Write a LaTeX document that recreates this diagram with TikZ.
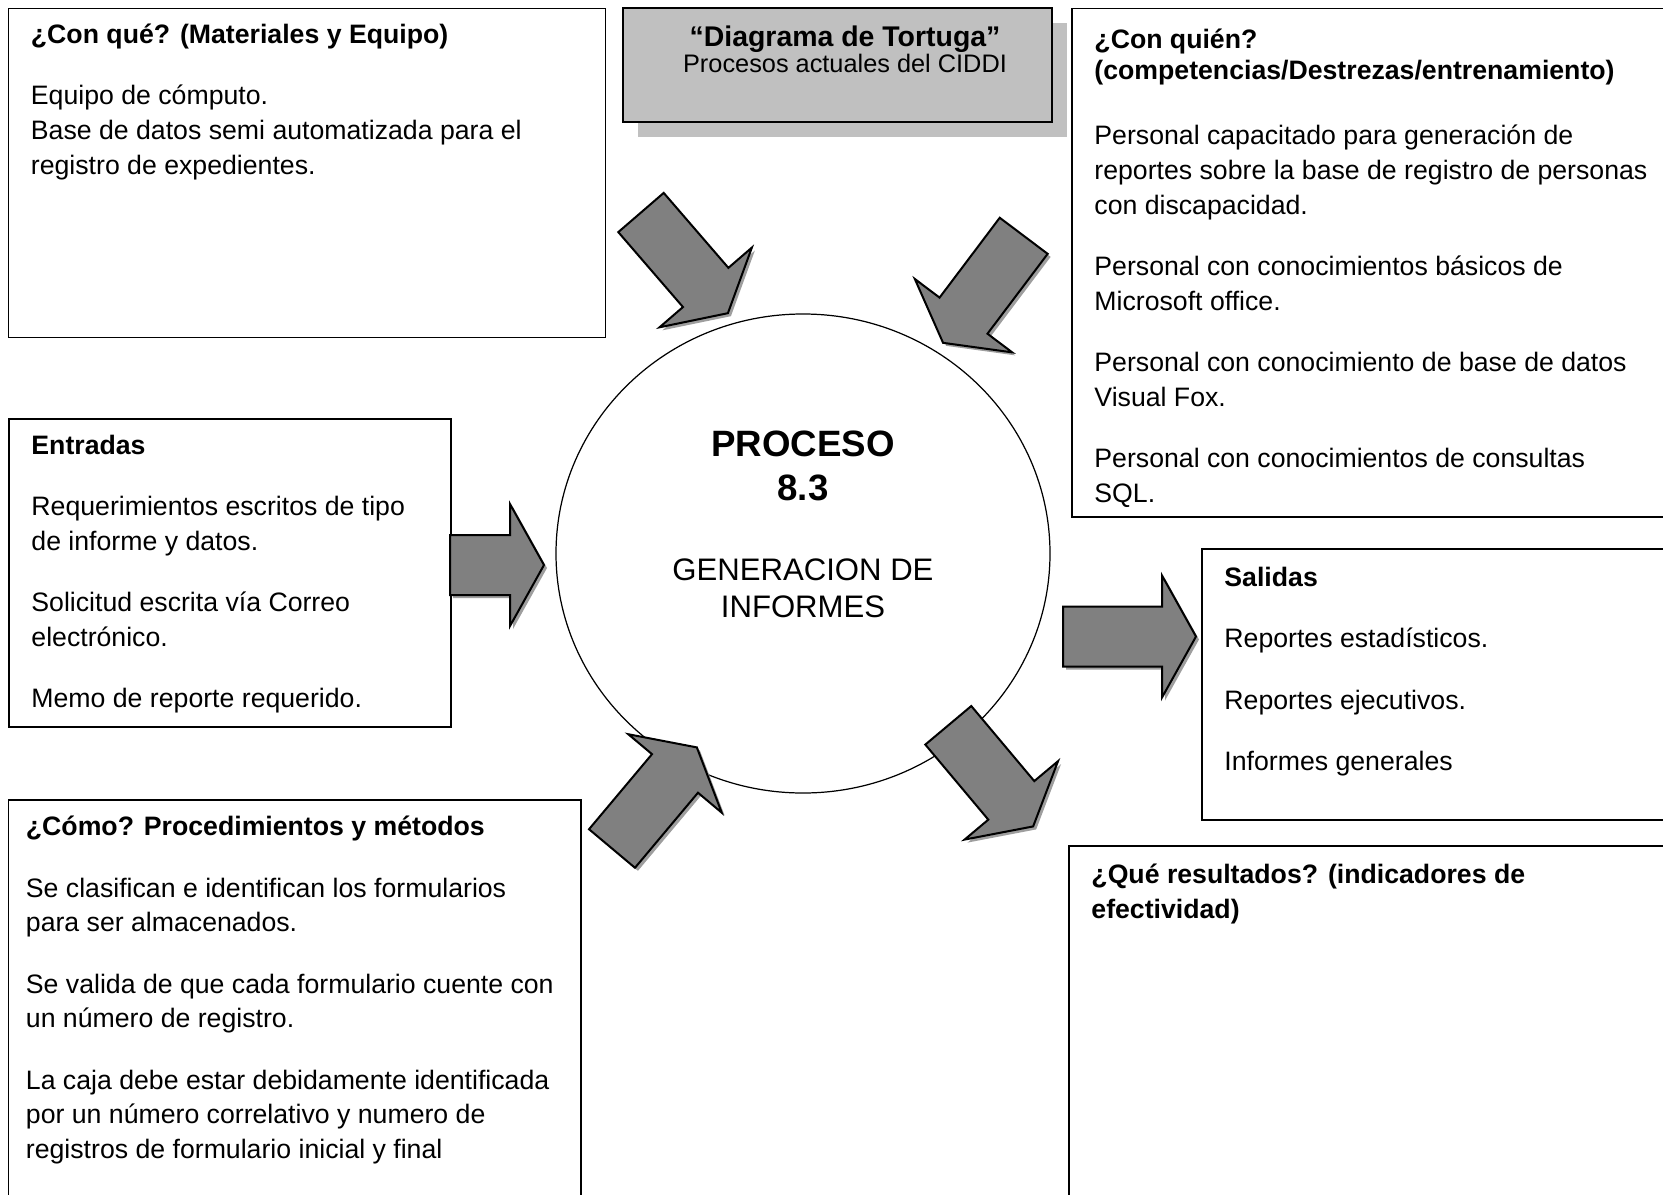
\documentclass[tikz,border=0pt]{standalone}
\usepackage{fontspec}
\setmainfont{Liberation Sans}
\usetikzlibrary{shapes.geometric}

\definecolor{grisflecha}{HTML}{808080}
\definecolor{grissombra}{HTML}{9E9E9E}
\definecolor{gristitulo}{HTML}{C0C0C0}

\newlength{\px}
\setlength{\px}{0.45pt}

\newcommand{\flecha}[3]{%
  \fill[sombra,shift={#1},shift={(3,3)},rotate=#2]
    (0,-30) -- (#3-34,-30) -- (#3-34,-61) -- (#3,0) -- (#3-34,61) -- (#3-34,30) -- (0,30) -- cycle;
  \filldraw[bloque,shift={#1},rotate=#2]
    (0,-30) -- (#3-34,-30) -- (#3-34,-61) -- (#3,0) -- (#3-34,61) -- (#3-34,30) -- (0,30) -- cycle;
}

\begin{document}
\begin{tikzpicture}[
    x=0.45pt, y=-0.45pt,
    caja/.style={draw,line width=0.6pt,anchor=north west,inner sep=0pt,outer sep=0pt},
    texto/.style={anchor=north west,inner sep=0pt,align=left,font=\fontsize{12}{15.6}\selectfont},
    bloque/.style={draw=black,line width=0.9pt,fill=grisflecha},
    sombra/.style={fill=grissombra}
  ]
  \useasboundingbox (0,0) rectangle (1663,1194);
  \clip (0,0) rectangle (1663,1194);
  \fill[white] (0,0) rectangle (1663,1194);

  \node[caja,minimum width=597\px,minimum height=329\px] (conque) at (8.5,8.5) {};
  \node[caja,minimum width=700\px,minimum height=508.5\px] (conquien) at (1072,8.5) {};
  \node[caja,minimum width=442\px,minimum height=308\px] (entradas) at (9,419) {};
  \node[caja,minimum width=600\px,minimum height=271\px] (salidas) at (1202,549) {};
  \node[caja,minimum width=700\px,minimum height=500\px] (resultados) at (1069,846) {};
  \node[caja,minimum width=572.5\px,minimum height=500\px] (como) at (8.5,800) {};

  \node[caja,draw=none,fill=gristitulo,minimum width=429\px,minimum height=114\px] (titulosombra) at (638,23) {};
  \node[caja,fill=gristitulo,minimum width=429\px,minimum height=114\px] (titulo) at (623,8) {};

  \node[ellipse,draw,line width=0.55pt,inner sep=0pt,minimum width=494\px,minimum height=479\px] (proceso) at (803,553.5) {};

  \flecha{(641,212.5)}{-49.2}{133}
  \flecha{(1023.7,235.8)}{-127}{134}
  \flecha{(450,565)}{0}{94}
  \flecha{(1063,636.5)}{0}{133}
  \flecha{(612,848.5)}{50}{132}
  \flecha{(948.3,725.3)}{-50}{132}

  \node[anchor=north,inner sep=0pt,align=center,font=\fontsize{12}{11.7}\selectfont] (titulotexto) at (845,25.5) {{\fontsize{12.8}{11.7}\selectfont\bfseries “Diagrama de Tortuga”}\\{\fontsize{11.4}{11.7}\selectfont Procesos actuales del CIDDI}};

  \node[anchor=north,inner sep=0pt,align=center,font=\fontsize{16.5}{19.4}\selectfont\bfseries] (procesonum) at (803,426.3) {\strut PROCESO\\8.3};
  \node[anchor=north,inner sep=0pt,align=center,font=\fontsize{14}{16.5}\selectfont] (procesonombre) at (803,554.3) {\strut GENERACION DE\\INFORMES};

  \node[texto] (conquetexto) at (30.5,18.8) {\strut\textbf{¿Con qué? (Materiales y Equipo)}\\[12pt]
    Equipo de cómputo.\\
    Base de datos semi automatizada para el\\
    registro de expedientes.};

  \node[texto] (conquientexto) at (1094,24.1) {\strut\textbf{¿Con quién?}\\[-2pt]
    \textbf{(competencias/Destrezas/entrenamiento)}\\[14pt]
    Personal capacitado para generación de\\
    reportes sobre la base de registro de personas\\
    con discapacidad.\\[12pt]
    Personal con conocimientos básicos de\\
    Microsoft office.\\[12pt]
    Personal con conocimiento de base de datos\\
    Visual Fox.\\[12pt]
    Personal con conocimientos de consultas\\
    SQL.};

  \node[texto] (entradastexto) at (31,429.3) {\strut\textbf{Entradas}\\[12pt]
    Requerimientos escritos de tipo\\
    de informe y datos.\\[12pt]
    Solicitud escrita vía Correo\\
    electrónico.\\[12pt]
    Memo de reporte requerido.};

  \node[texto] (salidastexto) at (1224,561.9) {\strut\textbf{Salidas}\\[12pt]
    Reportes estadísticos.\\[12pt]
    Reportes ejecutivos.\\[12pt]
    Informes generales};

  \node[texto] (comotexto) at (25.5,811.1) {\strut\textbf{¿Cómo? Procedimientos y métodos}\\[12pt]
    Se clasifican e identifican los formularios\\
    para ser almacenados.\\[12pt]
    Se valida de que cada formulario cuente con\\
    un número de registro.\\[12pt]
    La caja debe estar debidamente identificada\\
    por un número correlativo y numero de\\
    registros de formulario inicial y final};

  \node[texto] (resultadostexto) at (1091,858.8) {\strut\textbf{¿Qué resultados? (indicadores de}\\
    \textbf{efectividad)}};
\end{tikzpicture}
\end{document}
